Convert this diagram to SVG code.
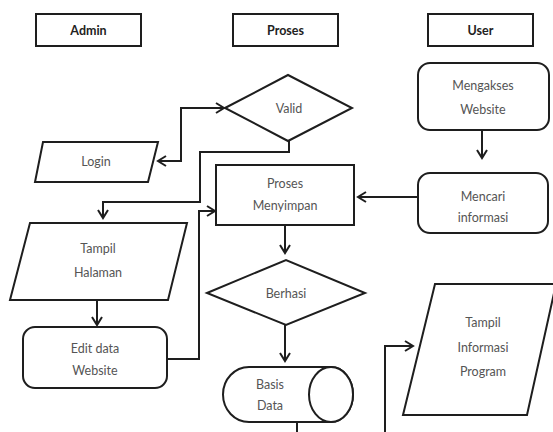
<svg xmlns="http://www.w3.org/2000/svg" width="553" height="432" viewBox="0 0 553 432">
<style>
.s{fill:#fff;stroke:#1e1e1e;stroke-width:2}
.c{fill:none;stroke:#1e1e1e;stroke-width:2}
.h{font-family:Lato,"Open Sans",sans-serif;font-size:12.5px;font-weight:bold;fill:#222;text-anchor:middle}
.t{font-family:Lato,"Open Sans",sans-serif;font-size:12.5px;fill:#555;text-anchor:middle}
</style>
<defs>
<marker id="a" markerUnits="userSpaceOnUse" markerWidth="14" markerHeight="14" refX="11" refY="7" orient="auto-start-reverse">
<path d="M3,2 L11,7 L3,12" fill="none" stroke="#1e1e1e" stroke-width="2"/>
</marker>
</defs>
<rect width="553" height="432" fill="#fff"/>
<g id="hdr-admin"><rect class="s" x="36" y="14" width="105" height="32"/><text class="h" x="88.5" y="35">Admin</text></g>
<g id="hdr-proses"><rect class="s" x="233" y="14" width="105" height="32"/><text class="h" x="285.5" y="35">Proses</text></g>
<g id="hdr-user"><rect class="s" x="428" y="14" width="105" height="32"/><text class="h" x="480.5" y="35">User</text></g>
<g id="connectors">
<path class="c" d="M482,130 V158" marker-end="url(#a)"/>
<path class="c" d="M418,197 H358" marker-end="url(#a)"/>
<path class="c" d="M285,225 V253" marker-end="url(#a)"/>
<path class="c" d="M285,325 V361" marker-end="url(#a)"/>
<path class="c" d="M158,161 H181 V108 H224" marker-start="url(#a)" marker-end="url(#a)"/>
<path class="c" d="M289,141 V152 H200 V202 H103 V218" marker-end="url(#a)"/>
<path class="c" d="M97,300 V325" marker-end="url(#a)"/>
<path class="c" d="M167,359 H199 V211 H215" marker-end="url(#a)"/>
<path class="c" d="M297,422 V440 H385 V346 H413" marker-end="url(#a)"/>
</g>
<g id="mengakses"><rect class="s" x="418" y="63" width="131" height="67" rx="12"/><text class="t" x="483" y="90">Mengakses</text><text class="t" x="483" y="114">Website</text></g>
<g id="mencari"><rect class="s" x="418" y="173" width="130" height="60" rx="12"/><text class="t" x="483" y="201">Mencari</text><text class="t" x="483" y="222">informasi</text></g>
<g id="valid"><polygon class="s" points="225,108 288,75 352,108 288,141"/><text class="t" x="289" y="113">Valid</text></g>
<g id="proses-menyimpan"><rect class="s" x="216" y="165" width="138" height="60"/><text class="t" x="285" y="188">Proses</text><text class="t" x="285" y="210">Menyimpan</text></g>
<g id="berhasi"><polygon class="s" points="207,293 286,260 365,293 286,325"/><text class="t" x="286" y="298">Berhasi</text></g>
<g id="basis-data"><path class="s" d="M249,367 H331 A22,27.5 0 0 1 331,422 H249 A26,27.5 0 0 1 249,367 Z"/><ellipse class="s" cx="331" cy="394.5" rx="22" ry="27.5"/><text class="t" x="270" y="389">Basis</text><text class="t" x="270" y="410">Data</text></g>
<g id="login"><polygon class="s" points="43,142 158,142 148,182 35,182"/><text class="t" x="96" y="166">Login</text></g>
<g id="tampil-halaman"><polygon class="s" points="30,223 187,223 168,300 10,300"/><text class="t" x="98" y="253">Tampil</text><text class="t" x="98" y="277">Halaman</text></g>
<g id="edit-data"><rect class="s" x="23" y="327" width="144" height="61" rx="12"/><text class="t" x="95" y="353">Edit data</text><text class="t" x="95" y="375">Website</text></g>
<g id="tampil-informasi"><polygon class="s" points="435,284 556,284 527,415 403,415"/><text class="t" x="483" y="327">Tampil</text><text class="t" x="483" y="352">Informasi</text><text class="t" x="483" y="376">Program</text></g>
</svg>
